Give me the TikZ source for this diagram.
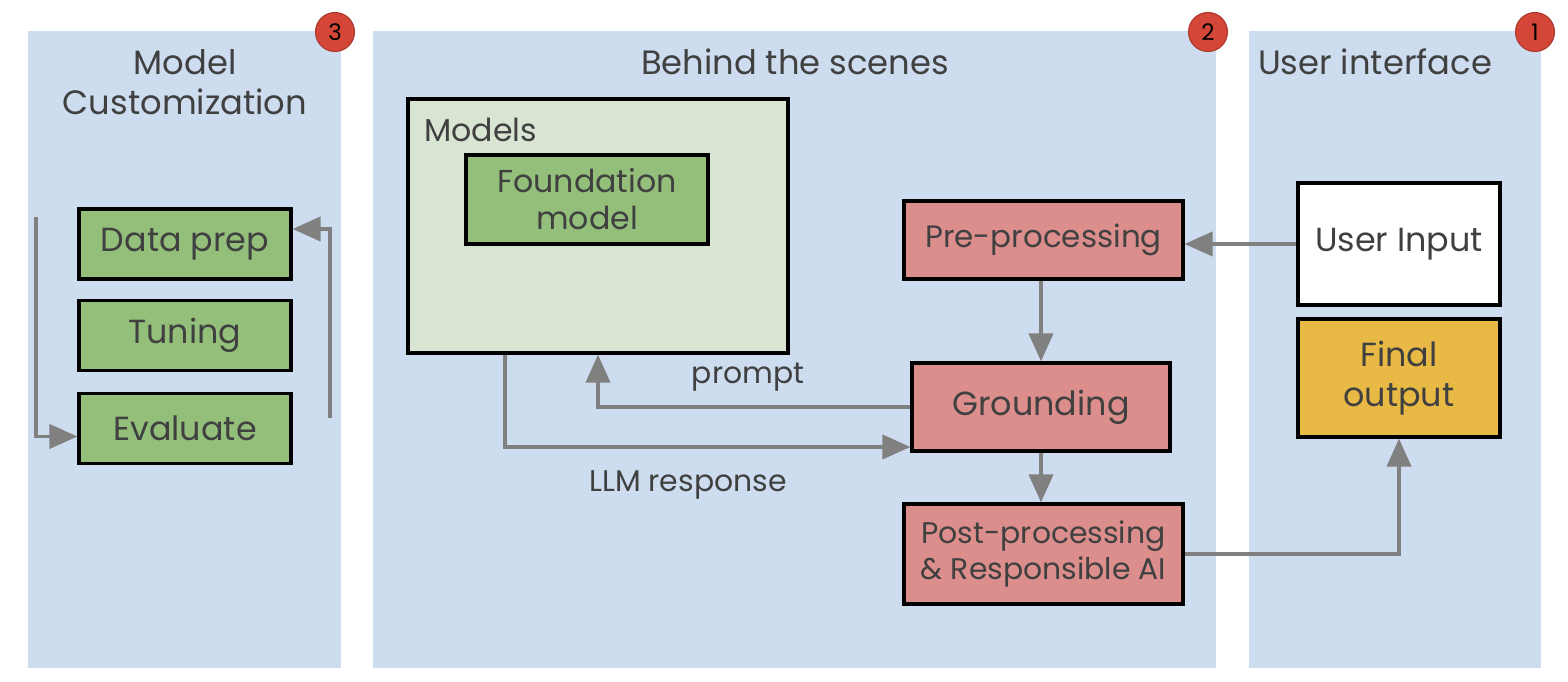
\documentclass[tikz,border=0pt]{standalone}
\usepackage{fontspec}
\setmainfont{Poppins}
\usetikzlibrary{arrows.meta,positioning}

\definecolor{ccpanel}{RGB}{205,220,238}
\definecolor{ccgreen}{RGB}{147,191,123}
\definecolor{cclight}{RGB}{217,229,211}
\definecolor{ccpink}{RGB}{219,142,140}
\definecolor{ccyellow}{RGB}{232,185,68}
\definecolor{ccbadge}{RGB}{212,70,56}
\definecolor{cctext}{RGB}{64,64,64}
\definecolor{ccarrow}{RGB}{128,128,128}

\tikzset{
  box/.style={draw=black, line width=0.9pt, text=cctext, align=center, inner sep=0pt},
  title/.style={text=cctext, align=center, font=\fontsize{9.6}{11.4}\selectfont},
  badge/.style={circle, fill=ccbadge, draw=ccbadge!80!black, line width=0.3pt, minimum size=3.9mm, inner sep=0pt, font=\fontsize{6.5}{6.5}\selectfont},
  flow/.style={draw=ccarrow, line width=1.1pt, -{Triangle[length=2.8mm,width=2.4mm]}},
  lbl/.style={text=cctext, font=\fontsize{8.5}{10}\selectfont}
}

\begin{document}
\begin{tikzpicture}[x=0.1mm,y=-0.1mm]
  \useasboundingbox (0,0) rectangle (1568,682);

  % Panels
  \fill[ccpanel] (28,31) rectangle (341,668);
  \fill[ccpanel] (373,31) rectangle (1216,668);
  \fill[ccpanel] (1249,31) rectangle (1541,668);
  \node[title] (custom) at (185,82) {Model\\Customization};
  \node[title] (scenes) at (795,62) {Behind the scenes};
  \node[title] (ui) at (1375,62) {User interface};
  \node[badge] (three) at (335,32) {3};
  \node[badge] (two) at (1208,32) {2};
  \node[badge] (one) at (1535,32) {1};

  % Model customization
  \node[box, fill=ccgreen, minimum width=21.2mm, minimum height=7mm, font=\fontsize{9.5}{11}\selectfont] (prep) at (185,244) {Data prep};
  \node[box, fill=ccgreen, minimum width=21.2mm, minimum height=7mm, font=\fontsize{9.5}{11}\selectfont] (tuning) at (185,335.5) {Tuning};
  \node[box, fill=ccgreen, minimum width=21.2mm, minimum height=7mm, font=\fontsize{9.5}{11}\selectfont] (eval) at (185,428.5) {Evaluate};
  \coordinate (lin) at (36,217);
  \coordinate (rin) at (330,418);
  \draw[flow] (lin) |- ([yshift=-0.8mm]eval.west);
  \draw[flow] (rin) |- ([yshift=1.5mm]prep.east);

  % Models
  \node[box, fill=cclight, minimum width=38mm, minimum height=25.4mm] (models) at (598,226) {};
  \node[text=cctext, anchor=west, font=\fontsize{9}{11}\selectfont] (mlabel) at (412,130) {Models};
  \node[box, fill=ccgreen, minimum width=24.2mm, minimum height=8.9mm, font=\fontsize{9}{10.5}\selectfont] (found) at (587,199.5) {Foundation\\model};

  % Pipeline
  \node[box, fill=ccpink, minimum width=27.9mm, minimum height=7.8mm, font=\fontsize{8.8}{10}\selectfont] (pre) at (1043.5,240) {Pre-processing};
  \node[box, fill=ccpink, minimum width=25.8mm, minimum height=8.8mm, font=\fontsize{9.5}{11}\selectfont] (ground) at (1041,407) {Grounding};
  \node[box, fill=ccpink, minimum width=27.9mm, minimum height=10mm, font=\fontsize{8.5}{10.5}\selectfont] (post) at (1043.5,554) {Post-processing\\\& Responsible AI};

  % User interface
  \node[box, fill=white, minimum width=20.2mm, minimum height=12.2mm, font=\fontsize{9.5}{11}\selectfont] (input) at (1399,244) {User Input};
  \node[box, fill=ccyellow, minimum width=20.2mm, minimum height=11.8mm, font=\fontsize{9.5}{11.5}\selectfont] (final) at (1399,378) {Final\\output};

  % Connectors
  \draw[flow] (input.west) -- (pre.east |- input.west);
  \draw[flow] (pre.south -| ground.north) -- (ground.north);
  \draw[flow] (ground.south) -- (ground.south |- post.north);
  \draw[flow] (post.east) -| (final.south);
  \draw[flow] (ground.west) -| (models.south);
  \draw[flow] ([xshift=-9.3mm]models.south) |- ([yshift=-4mm]ground.west);
  \node[lbl] (prompt) at (748,377) {prompt};
  \node[lbl] (llm) at (688,485) {LLM response};

\end{tikzpicture}
\end{document}
